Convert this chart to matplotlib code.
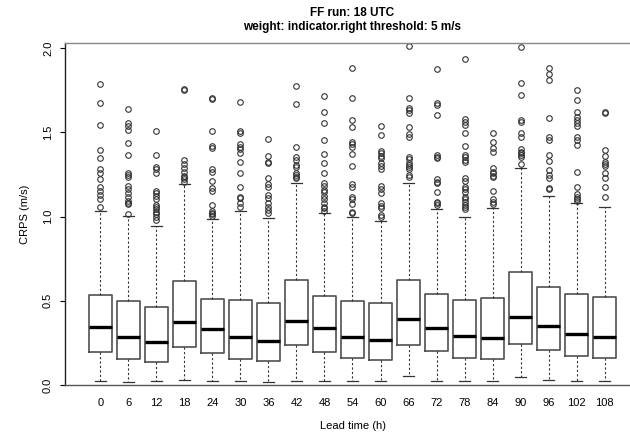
import matplotlib
matplotlib.use("Agg")
import matplotlib.pyplot as plt

plt.rcParams['font.family'] = ['Liberation Sans', 'DejaVu Sans']

lead_times = ["0", "6", "12", "18", "24", "30", "36", "42", "48", "54",
              "60", "66", "72", "78", "84", "90", "96", "102", "108"]

q1 = [0.198, 0.154, 0.138, 0.227, 0.192, 0.152, 0.144, 0.235, 0.198, 0.158,
      0.146, 0.237, 0.202, 0.160, 0.152, 0.245, 0.206, 0.170, 0.158]
median = [0.342, 0.287, 0.255, 0.372, 0.334, 0.285, 0.263, 0.380, 0.340, 0.283,
          0.267, 0.390, 0.336, 0.289, 0.279, 0.405, 0.350, 0.303, 0.285]
q3 = [0.534, 0.497, 0.465, 0.615, 0.512, 0.506, 0.489, 0.621, 0.526, 0.497,
      0.485, 0.623, 0.540, 0.504, 0.514, 0.669, 0.580, 0.538, 0.520]
whislo = [0.026, 0.020, 0.025, 0.030, 0.022, 0.022, 0.020, 0.026, 0.026, 0.026,
          0.022, 0.053, 0.026, 0.026, 0.024, 0.049, 0.030, 0.026, 0.024]
whishi = [1.034, 1.005, 0.944, 1.193, 0.985, 1.031, 0.989, 1.201, 1.019, 0.999,
          0.975, 1.197, 1.043, 0.995, 1.049, 1.290, 1.122, 1.078, 1.058]

outliers = [
    [1.785, 1.672, 1.545, 1.395, 1.345, 1.280, 1.256, 1.221, 1.177, 1.151, 1.128, 1.102, 1.058],
    [1.640, 1.553, 1.537, 1.513, 1.434, 1.363, 1.260, 1.246, 1.236, 1.181, 1.161, 1.138,
     1.118, 1.092, 1.082, 1.074, 1.015],
    [1.509, 1.365, 1.296, 1.280, 1.256, 1.153, 1.138, 1.122, 1.102, 1.068, 1.058, 1.045,
     1.029, 1.015, 0.999, 0.979],
    [1.757, 1.751, 1.335, 1.312, 1.286, 1.266, 1.240, 1.233, 1.221, 1.207],
    [1.701, 1.697, 1.507, 1.418, 1.405, 1.280, 1.266, 1.213, 1.167, 1.153, 1.068, 1.034,
     1.022, 1.015, 1.003],
    [1.678, 1.507, 1.497, 1.430, 1.414, 1.399, 1.375, 1.325, 1.260, 1.177, 1.118, 1.108,
     1.078, 1.058],
    [1.460, 1.361, 1.325, 1.319, 1.227, 1.193, 1.177, 1.128, 1.108, 1.082, 1.058, 1.039, 1.023],
    [1.773, 1.666, 1.414, 1.351, 1.335, 1.306, 1.296, 1.256, 1.246, 1.236, 1.227],
    [1.715, 1.622, 1.553, 1.454, 1.371, 1.319, 1.256, 1.201, 1.181, 1.157, 1.147, 1.122,
     1.102, 1.078, 1.058, 1.049, 1.034],
    [1.883, 1.705, 1.573, 1.533, 1.444, 1.430, 1.414, 1.371, 1.300, 1.193, 1.177, 1.118,
     1.102, 1.074, 1.029, 1.019],
    [1.537, 1.484, 1.391, 1.375, 1.359, 1.345, 1.316, 1.300, 1.280, 1.181, 1.161, 1.138,
     1.078, 1.064, 1.049, 1.009, 0.999],
    [2.012, 1.705, 1.646, 1.632, 1.616, 1.529, 1.488, 1.470, 1.355, 1.339, 1.319, 1.306,
     1.296, 1.280, 1.246, 1.233],
    [1.875, 1.672, 1.660, 1.602, 1.365, 1.355, 1.345, 1.221, 1.207, 1.197, 1.144, 1.088,
     1.078, 1.068],
    [1.935, 1.579, 1.563, 1.543, 1.494, 1.418, 1.365, 1.351, 1.335, 1.325, 1.227, 1.213,
     1.177, 1.163, 1.147, 1.118, 1.102, 1.084, 1.068, 1.055, 1.043],
    [1.494, 1.444, 1.405, 1.385, 1.286, 1.266, 1.256, 1.240, 1.233, 1.153, 1.102, 1.088, 1.074],
    [2.004, 1.791, 1.721, 1.573, 1.563, 1.497, 1.470, 1.399, 1.385, 1.375, 1.365, 1.351, 1.312],
    [1.883, 1.844, 1.810, 1.586, 1.474, 1.454, 1.365, 1.331, 1.276, 1.246, 1.227, 1.167, 1.161],
    [1.751, 1.691, 1.622, 1.592, 1.573, 1.557, 1.537, 1.470, 1.454, 1.424, 1.266, 1.173,
     1.134, 1.118, 1.102, 1.092],
    [1.622, 1.616, 1.395, 1.359, 1.325, 1.312, 1.300, 1.256, 1.227, 1.177, 1.114],
]

stats = []
for i in range(len(lead_times)):
    stats.append({"q1": q1[i], "med": median[i], "q3": q3[i],
                  "whislo": whislo[i], "whishi": whishi[i],
                  "fliers": outliers[i], "label": lead_times[i]})

fig = plt.figure(figsize=(6.3, 4.32), dpi=100)
ax = fig.add_axes([65 / 630, 1 - 385 / 432, 575 / 630, 342 / 432])

positions = list(range(len(lead_times)))
ax.bxp(stats, positions=positions, widths=0.8, patch_artist=False,
       boxprops=dict(color='#505050', linewidth=1.2),
       whiskerprops=dict(color='#333333', linewidth=0.8, linestyle=(0, (2, 2))),
       capprops=dict(color='#333333', linewidth=0.9),
       medianprops=dict(color='black', linewidth=2.4),
       flierprops=dict(marker='o', markerfacecolor='none', markeredgecolor='#333333',
                       markersize=4, markeredgewidth=0.8))

ax.set_xlim(-1.26, 19.26)
ax.set_ylim(0, 2.03)
ax.set_xticks(positions)
ax.set_xticklabels(lead_times)
ax.set_yticks([0.0, 0.5, 1.0, 1.5, 2.0])
ax.set_yticklabels(["0.0", "0.5", "1.0", "1.5", "2.0"], rotation=90, va='center')
ax.tick_params(axis='x', length=0, pad=9, labelsize=8)
ax.tick_params(axis='y', length=3.6, width=0.8, pad=5, labelsize=8)

ax.spines['right'].set_visible(False)
ax.spines['left'].set_color('#222222')
ax.spines['bottom'].set_color('#555555')
ax.spines['top'].set_color('#888888')
for s in ['left', 'bottom', 'top']:
    ax.spines[s].set_linewidth(1.0)

fig.text(352.5 / 630, 1 - 13 / 432, "FF run: 18 UTC", ha='center', va='center',
         fontsize=8.5, fontweight='bold')
fig.text(352.5 / 630, 1 - 27 / 432, "weight: indicator.right threshold: 5 m/s",
         ha='center', va='center', fontsize=8.5, fontweight='bold')
fig.text(352.5 / 630, 1 - 426 / 432, "Lead time (h)", ha='center', va='center', fontsize=8)
fig.text(25 / 630, 1 - 214 / 432, "CRPS (m/s)", ha='center', va='center',
         rotation=90, fontsize=8)

fig.savefig("out.png", dpi=100)
